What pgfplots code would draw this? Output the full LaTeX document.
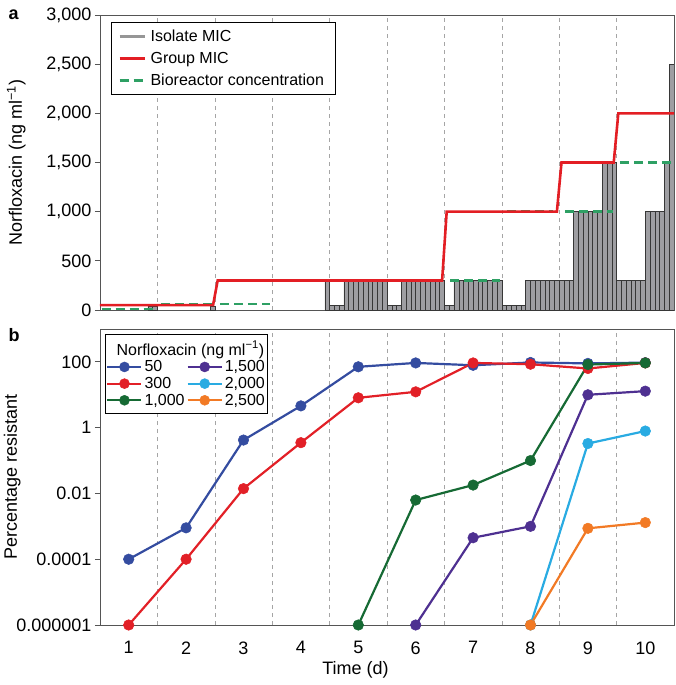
\documentclass[border=0pt]{standalone}
\usepackage{fontspec}
\setmainfont{Liberation Sans}
\usepackage{pgfplots}
\pgfplotsset{compat=1.18}
\definecolor{barfill}{RGB}{158,158,162}
\definecolor{baredge}{RGB}{55,55,55}
\definecolor{isogray}{RGB}{150,150,150}
\definecolor{mred}{RGB}{227,30,36}
\definecolor{mgreen}{RGB}{46,160,100}
\definecolor{cblue}{RGB}{52,76,160}
\definecolor{cred}{RGB}{226,32,39}
\definecolor{cgreen}{RGB}{22,106,52}
\definecolor{cpurple}{RGB}{78,48,145}
\definecolor{ccyan}{RGB}{41,171,226}
\definecolor{corange}{RGB}{242,122,37}
\definecolor{gridc}{RGB}{165,165,165}
\definecolor{axc}{RGB}{85,85,85}
\newcommand{\fs}{\fontsize{18}{21}\selectfont}
\newcommand{\fl}{\fontsize{16}{19}\selectfont}
\pgfplotsset{
  common/.style={
    scale only axis, width=574pt,
    xmin=0.5, xmax=10.5,
    /pgf/number format/assume math mode=true,
    tick label style={font=\fs},
    label style={font=\fs},
    legend style={font=\fl},
    axis line style={axc, line width=0.8pt},
    tick align=outside, major tick length=5pt,
    ytick style={axc, line width=0.8pt},
    xtick style={draw=none},
    ytick pos=left,
    extra x ticks={1.5,2.5,3.5,4.5,5.5,6.5,7.5,8.5,9.5},
    extra x tick labels={},
    extra x tick style={grid=major},
    major grid style={gridc, dash pattern=on 4pt off 4pt, line width=0.6pt},
  },
  lgimg/.style={line width=2.2pt, mark=*, mark size=5pt, mark options={solid, line width=0.5pt}},
}
\begin{document}
\begin{tikzpicture}
\begin{axis}[common, name=top, at={(0,0)}, anchor=south west,
  height=295pt, ymin=0, ymax=3000,
  ytick={0,500,1000,1500,2000,2500,3000},
  xtick=\empty,
  /pgf/number format/1000 sep={,},
  ylabel={Norfloxacin (ng ml\textsuperscript{−1})},
  ylabel style={at={(axis description cs:-0.146,0.5)}, anchor=center},
  legend image code/.code={\draw[#1] (0pt,0pt) -- (25pt,0pt);},
  legend style={at={(axis description cs:0.0186,0.976)}, anchor=north west,
    draw=black, line width=0.8pt, cells={anchor=west}, row sep=5.5pt,
    inner xsep=7pt, inner ysep=5pt, nodes={inner xsep=4.5pt}},
]
\addlegendimage{isogray, line width=3pt}
\addlegendentry{Isolate MIC}
\addlegendimage{mred, line width=2.6pt}
\addlegendentry{Group MIC}
\addlegendimage{mgreen, line width=2.6pt, dash pattern=on 9pt off 5pt}
\addlegendentry{Bioreactor concentration}
% isolate MIC bars (12 isolates per day)
\addplot[forget plot, ybar, bar width=0.08333, fill=barfill, draw=baredge, line width=0.5pt] coordinates {
(1.375,40) (1.4583,40)
(2.4583,40)
(4.4583,300)
(4.5417,50) (4.625,50) (4.7083,50) (4.7917,300) (4.875,300) (4.9583,300) (5.0417,300) (5.125,300) (5.2083,300) (5.2917,300) (5.375,300) (5.4583,300)
(5.5417,50) (5.625,50) (5.7083,50) (5.7917,300) (5.875,300) (5.9583,300) (6.0417,300) (6.125,300) (6.2083,300) (6.2917,300) (6.375,300) (6.4583,300)
(6.5417,50) (6.625,50) (6.7083,300) (6.7917,300) (6.875,300) (6.9583,300) (7.0417,300) (7.125,300) (7.2083,300) (7.2917,300) (7.375,300) (7.4583,300)
(7.5417,50) (7.625,50) (7.7083,50) (7.7917,50) (7.875,50) (7.9583,300) (8.0417,300) (8.125,300) (8.2083,300) (8.2917,300) (8.375,300) (8.4583,300)
(8.5417,300) (8.625,300) (8.7083,300) (8.7917,1000) (8.875,1000) (8.9583,1000) (9.0417,1000) (9.125,1000) (9.2083,1000) (9.2917,1500) (9.375,1500) (9.4583,1500)
(9.5417,300) (9.625,300) (9.7083,300) (9.7917,300) (9.875,300) (9.9583,300) (10.0417,1000) (10.125,1000) (10.2083,1000) (10.2917,1000) (10.375,1500) (10.4583,2500)
};
% bioreactor concentration, one segment per day
\pgfplotsset{bio/.style={forget plot, mgreen, line width=2.6pt, dash pattern=on 9pt off 5pt}}
\addplot[bio] coordinates {(0.53,10) (1.48,10)};
\addplot[bio] coordinates {(1.57,60) (2.47,60)};
\addplot[bio] coordinates {(2.59,60) (3.47,60)};
\addplot[bio] coordinates {(3.58,300) (4.5,300)};
\addplot[bio] coordinates {(4.53,300) (5.47,300)};
\addplot[bio] coordinates {(5.55,300) (6.45,300)};
\addplot[bio] coordinates {(6.6,300) (7.47,300)};
\addplot[bio] coordinates {(7.59,1000) (8.4,1000)};
\addplot[bio] coordinates {(8.6,1000) (9.44,1000)};
\addplot[bio] coordinates {(9.56,1500) (10.5,1500)};
% group MIC
\addplot[forget plot, mred, line width=2.6pt] coordinates {
(0.5,50) (2.47,50) (2.55,300) (6.46,300) (6.54,1000) (8.46,1000) (8.54,1500) (9.45,1500) (9.53,2000) (10.5,2000)};
\end{axis}
\node[anchor=base west, font=\bfseries\fontsize{18}{18}\selectfont, xshift=-95pt, yshift=-5pt] at (top.north west) {a};
\begin{axis}[common, name=bot, at={(0pt,-19pt)}, anchor=north west,
  height=296pt, ymode=log, ymin=1e-6, ymax=1000, clip=false,
  ytick={1e-6,1e-4,1e-2,1,100},
  yticklabels={0.000001,0.0001,0.01,1,100},
  xtick={1,2,3,4,5,6,7,8,9,10},
  xticklabel style={yshift=-8pt},
  xlabel={Time (d)},
  xlabel style={at={(axis description cs:0.445,0)}, anchor=base, yshift=-49pt},
  ylabel={Percentage resistant},
  ylabel style={at={(axis description cs:-0.153,0.5)}, anchor=center},
  legend columns=2,
  legend image code/.code={\draw[mark repeat=2, mark phase=2, #1] plot coordinates {(0pt,0pt) (17pt,0pt) (34pt,0pt)};},
  legend style={at={(axis description cs:0.0087,0.984)}, anchor=north west,
    draw=black, line width=0.8pt, cells={anchor=west},
    inner xsep=1pt, inner ysep=5pt,
    nodes={inner xsep=2pt},
    /tikz/every even column/.append style={column sep=0pt}},
  every axis plot/.append style={line width=2.2pt, mark=*, mark size=5.3pt, mark options={solid, line width=0.5pt}},
]
\addplot[forget plot, cblue] coordinates {(1,1e-4) (2,9e-4) (3,0.42) (4,4.6) (5,71) (6,93) (7,79) (8,96) (9,90) (10,95)};
\addplot[forget plot, cred] coordinates {(1,1e-6) (2,1e-4) (3,0.014) (4,0.35) (5,8.1) (6,12.3) (7,93) (8,85) (9,63) (10,93)};
\addplot[forget plot, cpurple] coordinates {(6,1e-6) (7,4.5e-4) (8,1e-3) (9,10) (10,12.9)};
\addplot[forget plot, ccyan] coordinates {(8,1e-6) (9,0.33) (10,0.79)};
\addplot[forget plot, corange] coordinates {(8,1e-6) (9,8.7e-4) (10,1.3e-3)};
\addplot[forget plot, cgreen] coordinates {(5,1e-6) (6,6.3e-3) (7,0.018) (8,0.1) (9,83) (10,93)};
\addlegendimage{empty legend}
\addlegendentry{\makebox[0pt][l]{\hspace*{-28pt}Norfloxacin (ng ml\textsuperscript{−1})}}
\addlegendimage{empty legend}
\addlegendentry{}
\addlegendimage{cblue, lgimg}\addlegendentry{50}
\addlegendimage{cpurple, lgimg}\addlegendentry{1,500}
\addlegendimage{cred, lgimg}\addlegendentry{300}
\addlegendimage{ccyan, lgimg}\addlegendentry{2,000}
\addlegendimage{cgreen, lgimg}\addlegendentry{1,000}
\addlegendimage{corange, lgimg}\addlegendentry{2,500}
\end{axis}
\node[anchor=base west, font=\bfseries\fontsize{18}{18}\selectfont, xshift=-95pt, yshift=-12pt] at (bot.north west) {b};
\pgfresetboundingbox
\useasboundingbox ([xshift=-100pt,yshift=15pt]top.north west) rectangle ([xshift=1pt,yshift=-60pt]bot.south east);
\end{tikzpicture}
\end{document}
